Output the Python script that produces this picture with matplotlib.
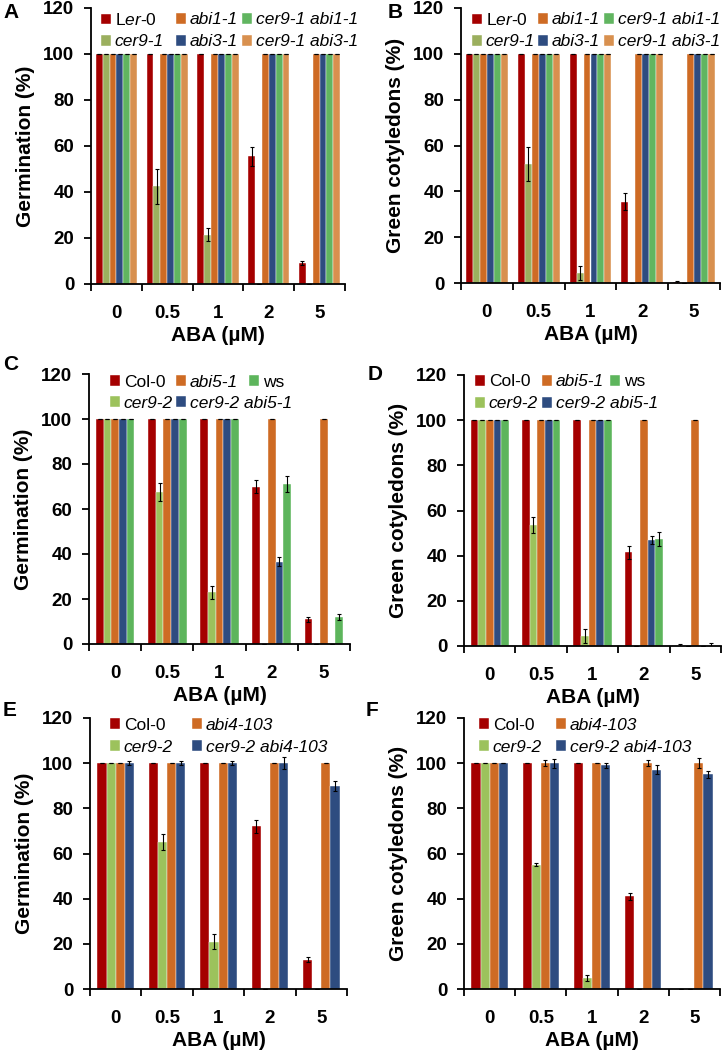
import numpy as np
import matplotlib.pyplot as plt
from matplotlib.legend import Legend

plt.rcParams['font.family'] = ['Liberation Sans', 'DejaVu Sans']
plt.rcParams['mathtext.fontset'] = 'custom'
plt.rcParams['mathtext.rm'] = 'Liberation Sans'
plt.rcParams['mathtext.it'] = 'Liberation Sans:italic'

aba = ['0', '0.5', '1', '2', '5']

# Panels A/B (Ler background)
names_ab = ['L$\\mathit{er}$-0', 'cer9-1', 'abi1-1', 'abi3-1', 'cer9-1 abi1-1', 'cer9-1 abi3-1']
italic_ab = [False, True, True, True, True, True]
colors_ab = ['#A50000', '#9BAF5E', '#CE6B24', '#2E4C80', '#61B560', '#D8904F']
germ_a = [[100, 100, 100, 55.5, 9],
          [100, 42.5, 21.5, 0, 0],
          [100, 100, 100, 100, 100],
          [100, 100, 100, 100, 100],
          [100, 100, 100, 100, 100],
          [100, 100, 100, 100, 100]]
germ_a_err = [[0, 0, 0, 4, 0.8],
              [0, 7.5, 3, 0, 0],
              [0, 0, 0, 0, 0],
              [0, 0, 0, 0, 0],
              [0, 0, 0, 0, 0],
              [0, 0, 0, 0, 0]]
green_b = [[100, 100, 100, 35.5, 0.3],
           [100, 52, 4.5, 0, 0],
           [100, 100, 100, 100, 100],
           [100, 100, 100, 100, 100],
           [100, 100, 100, 100, 100],
           [100, 100, 100, 100, 100]]
green_b_err = [[0, 0, 0, 3.8, 0.6],
               [0, 7.5, 3, 0, 0],
               [0, 0, 0, 0, 0],
               [0, 0, 0, 0, 0],
               [0, 0, 0, 0, 0],
               [0, 0, 0, 0, 0]]

# Panels C/D (abi5)
names_cd = ['Col-0', 'cer9-2', 'abi5-1', 'cer9-2 abi5-1', 'ws']
italic_cd = [False, True, True, True, False]
colors_cd = ['#A50000', '#9CC25C', '#CE6B24', '#2E4C80', '#5DB55C']
germ_c = [[100, 100, 100, 70, 11],
          [100, 67.5, 23, 0, 0],
          [100, 100, 100, 100, 100],
          [100, 100, 100, 36.5, 0],
          [100, 100, 100, 71, 12]]
germ_c_err = [[0, 0, 0, 3, 1.2],
              [0, 4, 3, 0, 0],
              [0, 0, 0, 0, 0],
              [0, 0, 0, 2, 0],
              [0, 0, 0, 3.5, 1.5]]
green_d = [[100, 100, 100, 41.5, 0],
           [100, 53.5, 4.5, 0, 0],
           [100, 100, 100, 100, 100],
           [100, 100, 100, 47, 0],
           [100, 100, 100, 47.5, 0]]
green_d_err = [[0, 0, 0, 2.8, 1],
               [0, 3.5, 3, 0, 0],
               [0, 0, 0, 0, 0],
               [0, 0, 0, 1.8, 0],
               [0, 0, 0, 3.2, 1.5]]

# Panels E/F (abi4)
names_ef = ['Col-0', 'cer9-2', 'abi4-103', 'cer9-2 abi4-103']
italic_ef = [False, True, True, True]
colors_ef = ['#A50000', '#9CC25C', '#CE6B24', '#2E4C80']
germ_e = [[100, 100, 100, 72, 13],
          [100, 65, 21, 0, 0],
          [100, 100, 100, 100, 100],
          [100, 100, 100, 100, 90]]
germ_e_err = [[0, 0, 0, 3, 1.2],
              [0, 3.5, 3.5, 0, 0],
              [0, 0, 0, 0, 0],
              [1, 1, 1, 2.8, 2.2]]
green_f = [[100, 100, 100, 41, 0],
           [100, 55, 5, 0, 0],
           [100, 100, 100, 100, 100],
           [100, 100, 99, 97, 95]]
green_f_err = [[0, 0, 0, 1.5, 0],
               [0, 0.7, 1.3, 0, 0],
               [0, 1.3, 0, 1.3, 2.2],
               [0, 2, 1, 2, 1.5]]

W, H = 725, 1056
fig = plt.figure(figsize=(W / 100, H / 100), dpi=100)


def panel(rect, letter, letter_xy, ylabel, names, italic, colors, vals, errs, leg_xy, gw):
    x0, y0, x1, y1 = rect
    aw, ah = x1 - x0, y1 - y0
    ax = fig.add_axes([x0 / W, 1 - y1 / H, aw / W, ah / H])
    n = len(names)
    w = gw / n
    x = np.arange(len(aba))
    handles = []
    for i in range(n):
        pos = x - gw / 2 + w * (i + 0.5)
        b = ax.bar(pos, vals[i], w, color=colors[i], edgecolor='white',
                   linewidth=0.3, zorder=2)
        handles.append(b)
        ax.errorbar(pos, vals[i], yerr=errs[i], fmt='none', ecolor='black',
                    elinewidth=0.8, capsize=1.6, capthick=0.8, zorder=3)
    ax.set_xlim(-0.5, 4.5)
    ax.set_ylim(0, 120)
    ax.set_yticks(range(0, 121, 20))
    ax.set_xticks(np.arange(-0.5, 5, 1))
    ax.set_xticklabels([])
    ax.set_xticks(x, minor=True)
    ax.set_xticklabels(aba, minor=True)
    ax.tick_params(axis='x', which='major', direction='out', length=5, width=1.3)
    ax.tick_params(axis='x', which='minor', length=0, pad=15, labelsize=13.5)
    ax.tick_params(axis='y', direction='out', length=5, width=1.3, pad=7, labelsize=13.5)
    for t in ax.get_xticklabels(minor=True) + ax.get_yticklabels():
        t.set_fontweight('bold')
    for s in ['top', 'right']:
        ax.spines[s].set_visible(False)
    for s in ['left', 'bottom']:
        ax.spines[s].set_linewidth(1.3)
    ax.set_ylabel(ylabel, fontsize=15, fontweight='bold', labelpad=6)
    ax.set_xlabel('ABA (µM)', fontsize=15, fontweight='bold', labelpad=3)
    # one small legend per entry, laid out like the original grid
    for h, name, it, (dx, dy) in zip(handles, names, italic, leg_xy):
        leg = Legend(ax, [h], [name], loc='center left',
                     bbox_to_anchor=(dx / aw, 1 - dy / ah), frameon=False,
                     fontsize=12.5, handlelength=0.55, handleheight=0.55,
                     handletextpad=0.25, borderaxespad=0, borderpad=0)
        if it:
            leg.get_texts()[0].set_fontstyle('italic')
        ax.add_artist(leg)
    fig.text(letter_xy[0] / W, 1 - letter_xy[1] / H, letter, fontsize=15,
             fontweight='bold', ha='left', va='center')
    return ax


panel((91, 8, 345, 284), 'A', (3, 12), 'Germination (%)', names_ab, italic_ab,
      colors_ab, germ_a, germ_a_err,
      [(10, 12), (10, 34), (85, 12), (85, 34), (151, 12), (151, 34)], 0.81)
panel((461, 8, 720, 283), 'B', (388, 12), 'Green cotyledons (%)', names_ab, italic_ab,
      colors_ab, green_b, green_b_err,
      [(11, 12), (11, 34), (77, 12), (77, 34), (143, 12), (143, 34)], 0.81)
panel((89, 374, 350, 644), 'C', (3, 364), 'Germination (%)', names_cd, italic_cd,
      colors_cd, germ_c, germ_c_err,
      [(21, 8), (21, 29), (87, 8), (87, 29), (160, 8)], 0.74)
panel((464, 375, 721, 646), 'D', (368, 375), 'Green cotyledons (%)', names_cd, italic_cd,
      colors_cd, green_d, green_d_err,
      [(11, 7), (11, 29), (78, 7), (78, 29), (146, 7)], 0.74)
panel((90, 718, 347, 989), 'E', (3, 710), 'Germination (%)', names_ef, italic_ef,
      colors_ef, germ_e, germ_e_err,
      [(20, 7), (20, 29), (102, 7), (102, 29)], 0.71)
panel((464, 718, 720, 989), 'F', (366, 710), 'Green cotyledons (%)', names_ef, italic_ef,
      colors_ef, green_f, green_f_err,
      [(15, 7), (15, 29), (92, 7), (92, 29)], 0.71)

fig.savefig('out.png', dpi=100)
